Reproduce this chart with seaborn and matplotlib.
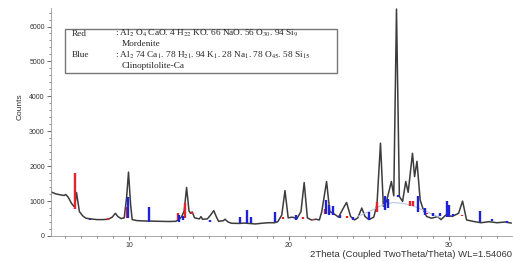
import matplotlib
matplotlib.use('Agg')
import matplotlib.pyplot as plt
import pandas as pd
import seaborn as sns
from matplotlib.patches import Rectangle
from matplotlib.ticker import MultipleLocator

# ---------------- data ----------------
two_theta = [5.1, 5.4, 5.7, 5.95, 6.05, 6.2, 6.4, 6.55, 6.62, 6.72, 6.8, 6.9, 7.1, 7.3, 7.6,
             8.0, 8.4, 8.7, 8.95, 9.15, 9.3, 9.5, 9.7, 9.85, 9.97, 10.1, 10.2, 10.5, 11.0,
             11.5, 12.0, 12.5, 12.9, 13.1, 13.3, 13.45, 13.6, 13.75, 13.85, 13.95, 14.1,
             14.4, 14.5, 14.6, 14.9, 15.1, 15.3, 15.45, 15.6, 15.9, 16.0, 16.2, 16.4, 16.9,
             17.2, 17.5, 17.9, 18.3, 18.7, 19.1, 19.3, 19.55, 19.75, 19.95, 20.2, 20.5,
             20.75, 20.95, 21.15, 21.4, 21.7, 21.9, 22.05, 22.35, 22.55, 22.8, 23.1, 23.4,
             23.6, 23.85, 24.1, 24.3, 24.55, 24.75, 25.0, 25.3, 25.5, 25.72, 25.9, 26.1,
             26.4, 26.55, 26.72, 26.9, 27.1, 27.3, 27.45, 27.72, 27.85, 28.0, 28.2, 28.4,
             28.6, 28.9, 29.3, 29.5, 29.8, 30.2, 30.6, 30.85, 31.1, 31.5, 32.0, 32.5, 33.0,
             33.5, 33.9]
counts = [1270, 1210, 1180, 1160, 1190, 1110, 940, 850, 900, 1245, 1000, 700, 580, 510, 490,
          470, 470, 480, 540, 650, 560, 500, 520, 1100, 1830, 900, 470, 440, 430,
          425, 420, 415, 420, 460, 560, 720, 1390, 720, 650, 690, 520,
          490, 555, 480, 490, 600, 727, 560, 420, 440, 480, 400, 365, 360,
          370, 360, 345, 365, 380, 380, 410, 600, 1300, 520, 540, 500,
          700, 1530, 520, 460, 480, 460, 700, 1560, 700, 640, 540, 800,
          960, 560, 460, 520, 800, 560, 470, 540, 900, 2660, 850, 1000,
          1560, 1150, 6500, 1130, 990, 1560, 1250, 2370, 1700, 2140, 1030, 750,
          560, 510, 555, 470, 600, 560, 650, 1000, 460, 420, 380, 410, 380,
          400, 370]

bg_theta = [24.3, 25.0, 25.8, 26.5, 27.2, 28.0, 28.8, 29.5]
bg_counts = [560, 700, 880, 960, 930, 820, 660, 520]

red_pos = [6.63, 8.71, 9.86, 13.08, 13.5, 13.92, 19.64, 20.9, 21.52, 22.25, 23.64,
           25.52, 27.56, 27.77, 28.61, 30.79]
red_low = [770, 470, 510, 470, 510, 640, 480, 500, 450, 640, 520,
           700, 850, 850, 620, 560]
red_high = [1800, 520, 840, 650, 940, 680, 530, 540, 490, 780, 560,
            960, 1000, 990, 660, 600]

blue_pos = [7.56, 9.96, 11.27, 13.14, 13.35, 15.06, 16.94, 17.36, 17.61, 19.1, 20.44,
            22.31, 22.52, 22.73, 23.19, 23.98, 25.02, 26.0, 26.21, 26.83, 28.08, 28.5,
            28.98, 29.44, 29.86, 30.02, 30.25, 31.94, 32.67, 33.6]
blue_low = [450, 510, 410, 410, 450, 410, 365, 365, 365, 400, 470,
            640, 600, 600, 520, 470, 470, 750, 800, 1120, 700, 600,
            560, 560, 555, 555, 560, 412, 420, 380]
blue_high = [490, 1130, 840, 600, 560, 470, 555, 750, 555, 700, 600,
             1030, 900, 850, 600, 540, 700, 1140, 1050, 1170, 1150, 800,
             650, 650, 1000, 900, 640, 720, 480, 430]

x_ticks = [10, 20, 30]
y_ticks = [0, 1000, 2000, 3000, 4000, 5000, 6000]
x_label = "2Theta (Coupled TwoTheta/Theta) WL=1.54060"
y_label = "Counts"
legend_names = ["Red", "Blue"]
legend_formulas = [r": Al$_2$ O$_4$ CaO. 4 H$_{22}$ KO. 66 NaO. 56 O$_{30}$. 94 Si$_9$",
                   r": Al$_2$ 74 Ca$_1$. 78 H$_{21}$. 94 K$_1$. 28 Na$_1$. 78 O$_{45}$. 58 Si$_{15}$"]
legend_minerals = ["Mordenite", "Clinoptilolite-Ca"]

# ---------------- styling ----------------
sns.set_theme(style="ticks")
plt.rcParams['font.family'] = ['Liberation Sans', 'DejaVu Sans']
plt.rcParams['mathtext.fontset'] = 'stix'

W, H = 513, 261
fig = plt.figure(figsize=(W / 100, H / 100), dpi=100)
ax = fig.add_axes([51 / W, 1 - 236 / H, (512 - 51) / W, (236 - 8) / H])

df = pd.DataFrame({"two_theta": two_theta, "counts": counts})
sns.lineplot(data=df, x="two_theta", y="counts", ax=ax, color="#3c3c3c",
             linewidth=1.1, sort=False, estimator=None)
bg = pd.DataFrame({"two_theta": bg_theta, "counts": bg_counts})
sns.lineplot(data=bg, x="two_theta", y="counts", ax=ax, color="#b9c6e6",
             linewidth=0.8, sort=False, estimator=None)

ax.vlines(red_pos, red_low, red_high, color="#e3242b", linewidth=1.7, zorder=3)
ax.vlines(blue_pos, blue_low, blue_high, color="#1f22d6", linewidth=1.7, zorder=3)

ax.set_xlim(5.125, 33.94)
ax.set_ylim(0, 6530)
ax.set_xticks(x_ticks)
ax.set_yticks(y_ticks)
ax.xaxis.set_minor_locator(MultipleLocator(1))
ax.yaxis.set_minor_locator(MultipleLocator(200))
ax.tick_params(axis='both', which='major', labelsize=5, colors='#555555',
               labelcolor='#333333', length=3, width=0.6, pad=1.5)
ax.tick_params(axis='both', which='minor', length=1.5, width=0.5, colors='#666666')
for s in ['top', 'right']:
    ax.spines[s].set_visible(False)
for s in ['left', 'bottom']:
    ax.spines[s].set_color('#999999')
    ax.spines[s].set_linewidth(0.6)

ax.set_xlabel(x_label, loc='right', fontsize=6.8, color='#333333', labelpad=0.5)
ax.set_ylabel("")
fig.text(20 / W, 1 - 107 / H, y_label, rotation=90, ha='center', va='center',
         fontsize=6, color='#333333')

# legend box
fig.patches.append(Rectangle((65 / W, 1 - 72.5 / H), (337 - 65) / W, (72.5 - 28.5) / H,
                             transform=fig.transFigure, fill=True, facecolor='white',
                             edgecolor='#777777', linewidth=1.0, zorder=5))
serif = ['Liberation Serif', 'DejaVu Serif']
rows_y = [33.5, 55]
sub_y = [44, 65.5]
fs = 6.7
for i in range(2):
    fig.text(72 / W, 1 - rows_y[i] / H, legend_names[i], fontsize=fs, family=serif,
             va='center', ha='left', zorder=6)
    fig.text(115 / W, 1 - rows_y[i] / H, legend_formulas[i], fontsize=fs, family=serif,
             va='center', ha='left', zorder=6)
    fig.text(122 / W, 1 - sub_y[i] / H, legend_minerals[i], fontsize=fs, family=serif,
             va='center', ha='left', zorder=6)

fig.savefig("out.png", dpi=100)
